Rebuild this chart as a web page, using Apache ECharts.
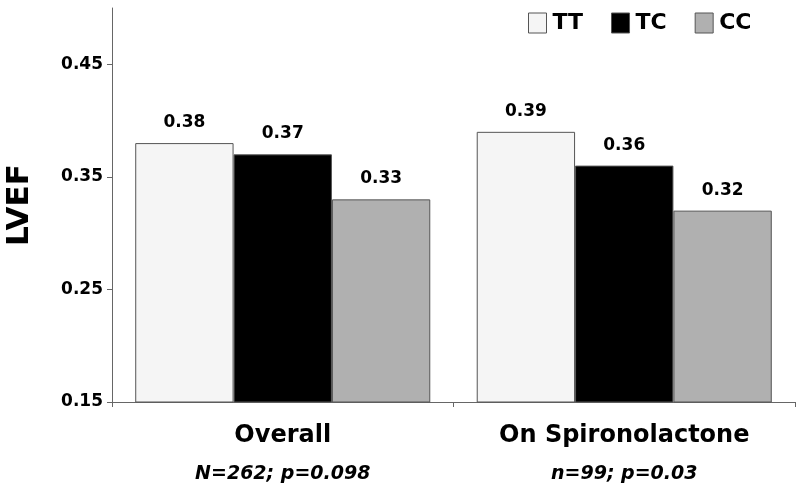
<!DOCTYPE html>
<html><head><meta charset="utf-8">
<script src="https://cdn.jsdelivr.net/npm/echarts@6/dist/echarts.min.js"></script>
<style>html,body{margin:0;padding:0;background:#fff}#c{width:800px;height:495px}</style>
</head><body><div id="c"></div>
<script>
const categories = ['Overall', 'On Spironolactone'];
const subtitles = ['N=262; p=0.098', 'n=99; p=0.03'];
const seriesNames = ['TT', 'TC', 'CC'];
const ttValues = [0.38, 0.39];
const tcValues = [0.37, 0.36];
const ccValues = [0.33, 0.32];
const yTicks = [0.15, 0.25, 0.35, 0.45];

const FONT = '"DejaVu Sans", Verdana, sans-serif';
const colors = ['#f5f5f5', '#000000', '#b0b0b0'];
const values = [ttValues, tcValues, ccValues];

const chart = echarts.init(document.getElementById('c'), null, {renderer: 'canvas'});
chart.setOption({
  animation: false,
  backgroundColor: '#fff',
  grid: {left: 112, right: 5, top: 8, bottom: 93, containLabel: false, outerBoundsMode: 'none'},
  legend: {
    left: 528, top: 12, padding: 0, itemWidth: 18, itemHeight: 20, itemGap: 28, icon: 'rect',
    itemStyle: {borderColor: '#555', borderWidth: 1},
    textStyle: {fontFamily: FONT, fontWeight: 'bold', fontSize: 22, color: '#000', padding: [0, 0, 0, 1]},
    data: seriesNames
  },
  xAxis: {
    type: 'category', data: categories,
    axisLine: {lineStyle: {color: '#666', width: 1}},
    axisTick: {show: true, length: 5, lineStyle: {color: '#666'}},
    axisLabel: {
      margin: 16,
      formatter: (v, i) => '{a|' + v + '}\n{b|' + subtitles[i] + '}',
      rich: {
        a: {fontFamily: FONT, fontSize: 24, fontWeight: 'bold', color: '#000', lineHeight: 36},
        b: {fontFamily: FONT, fontSize: 19, fontWeight: 'bold', fontStyle: 'italic', color: '#000', lineHeight: 40}
      }
    }
  },
  yAxis: {
    type: 'value', min: 0.15, max: 0.5, interval: 0.1,
    name: 'LVEF', nameLocation: 'middle', nameGap: 77, nameRotate: 90,
    nameTextStyle: {fontFamily: FONT, fontSize: 31, fontWeight: 'bold', color: '#000'},
    axisLine: {show: true, lineStyle: {color: '#666', width: 1}},
    axisTick: {show: true, length: 5, lineStyle: {color: '#666'}},
    splitLine: {show: false},
    axisLabel: {
      fontFamily: FONT, fontSize: 17, fontWeight: 'bold', color: '#000', margin: 9,
      showMaxLabel: false,
      formatter: v => yTicks.some(t => Math.abs(t - v) < 1e-6) ? v.toFixed(2) : ''
    }
  },
  series: seriesNames.map((n, k) => ({
    name: n, type: 'bar', data: values[k],
    barGap: '0%', barCategoryGap: '13.6%',
    itemStyle: {color: colors[k], borderColor: '#555', borderWidth: 1},
    label: {show: true, position: 'top', distance: 12, fontFamily: FONT, fontSize: 17, fontWeight: 'bold', color: '#000',
      formatter: p => p.value.toFixed(2)}
  }))
});
</script></body></html>
